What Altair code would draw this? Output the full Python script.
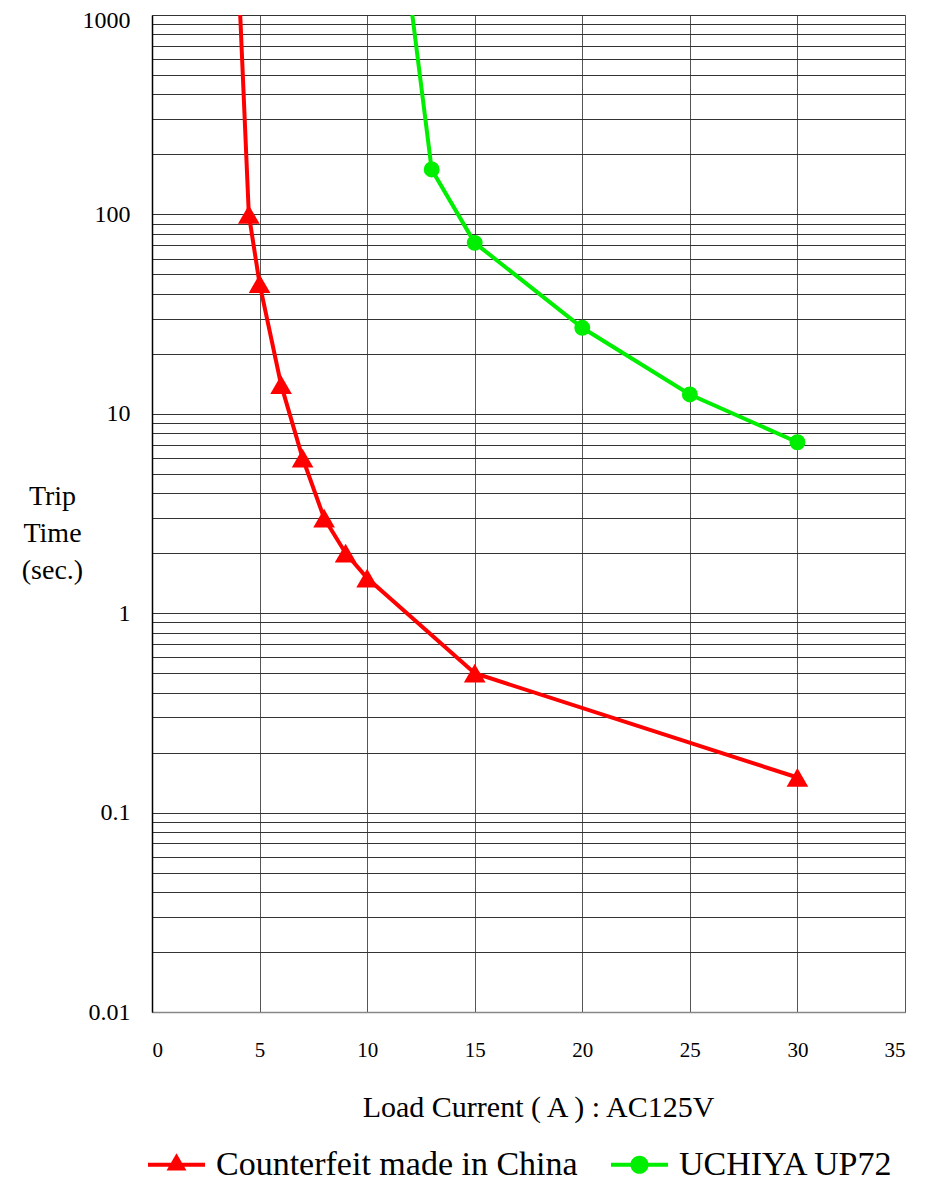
import altair as alt
import pandas as pd

series_names = ["Counterfeit made in China", "UCHIYA UP72"]
series_colors = ["#ff0000", "#00ee00"]

# Counterfeit: the first point is where the curve leaves the top of the chart (no marker)
red_current = [4.1, 4.5, 5, 6, 7, 8, 9, 10, 15, 30]
red_time = [1000, 100, 45, 14, 6, 3, 2, 1.5, 0.5, 0.15]
red_marker = [False, True, True, True, True, True, True, True, True, True]

green_current = [12.1, 13, 15, 20, 25, 30]
green_time = [1000, 168, 72, 27, 12.5, 7.2]
green_marker = [False, True, True, True, True, True]

y_label_values = [0.01, 0.1, 1, 10, 100, 1000]
y_grid_values = [m * d for d in [0.01, 0.1, 1, 10, 100] for m in range(1, 10)] + [1000]
x_tick_values = [0, 5, 10, 15, 20, 25, 30, 35]

legend_paths = [
    "M-1,-0.07H1V0.07H-1Z M0,-0.4L0.35,0.2L-0.35,0.2Z",
    "M-1,-0.07H1V0.07H-1Z M0.32,0A0.32,0.32,0,1,1,-0.32,0A0.32,0.32,0,1,1,0.32,0Z",
]

red_df = pd.DataFrame({"current": red_current, "time": red_time,
                       "marker": red_marker, "series": series_names[0]})
green_df = pd.DataFrame({"current": green_current, "time": green_time,
                         "marker": green_marker, "series": series_names[1]})
all_df = pd.concat([red_df, green_df], ignore_index=True)

FONT = "Liberation Serif"

x_enc = alt.X(
    "current:Q",
    scale=alt.Scale(domain=[0, 35], nice=False, zero=False),
    axis=alt.Axis(
        values=x_tick_values,
        title="Load Current ( A ) : AC125V",
        titleFont=FONT, titleFontSize=30, titleFontWeight="normal", titleColor="#000",
        titleBaseline="alphabetic", titleAnchor="start", titleAlign="center",
        titleX=386, titleY=104,
        labelFont=FONT, labelFontSize=21, labelColor="#000", labelPadding=27,
        ticks=False, grid=True, gridColor="#555", gridWidth=1,
        domainColor="#888", domainWidth=1.5,
    ),
)

y_enc = alt.Y(
    "time:Q",
    scale=alt.Scale(type="log", domain=[0.01, 1000], nice=False),
    axis=alt.Axis(
        values=y_grid_values,
        format="~g",
        labelExpr="indexof(" + str(y_label_values) + ", datum.value) >= 0 ? datum.label : ''",
        labelOverlap=False,
        labelFont=FONT, labelFontSize=24, labelColor="#000", labelPadding=22,
        labelBaseline="middle",
        labelOffset={"condition": {"test": "datum.value >= 1000", "value": 5}, "value": 0},
        title=["Trip", "Time", "(sec.)"],
        titleFont=FONT, titleFontSize=28, titleFontWeight="normal", titleColor="#000",
        titleAngle=0, titleAlign="center", titleBaseline="alphabetic",
        titleX=-100, titleY=489, titleLineHeight=37,
        ticks=False, grid=True, gridColor="#333", gridWidth=1.2,
        domainColor="#000", domainWidth=1.5,
    ),
)

red_line = alt.Chart(red_df).mark_line(color=series_colors[0], strokeWidth=4, clip=True).encode(
    x=x_enc, y=y_enc)
red_pts = alt.Chart(red_df).transform_filter("datum.marker").mark_point(
    shape="triangle-up", filled=True, size=470, opacity=1, color=series_colors[0]
).encode(x=x_enc, y=y_enc)

green_line = alt.Chart(green_df).mark_line(color=series_colors[1], strokeWidth=4, clip=True).encode(
    x=x_enc, y=y_enc)
green_pts = alt.Chart(green_df).transform_filter("datum.marker").mark_point(
    shape="circle", filled=True, size=254, opacity=1, color=series_colors[1]
).encode(x=x_enc, y=y_enc)

legend_props = dict(
    title=None, orient="none", direction="horizontal",
    legendX=-4, legendY=1121,
    symbolSize=3249, symbolStrokeWidth=0, symbolOpacity=1,
    labelFont=FONT, labelFontSize=34, labelColor="#000", labelOffset=11,
    labelLimit=1000, columnPadding=33, padding=0,
)

legend_layer = alt.Chart(all_df).transform_filter("datum.current < 0").mark_point(
    filled=True, opacity=1
).encode(
    x=x_enc, y=y_enc,
    color=alt.Color("series:N", scale=alt.Scale(domain=series_names, range=series_colors),
                    legend=alt.Legend(**legend_props)),
    shape=alt.Shape("series:N", scale=alt.Scale(domain=series_names, range=legend_paths),
                    legend=alt.Legend(**legend_props)),
)

chart = alt.layer(red_line, green_line, red_pts, green_pts, legend_layer).properties(
    width=753, height=997,
    autosize=alt.AutoSizeParams(type="none"),
    padding={"left": 144, "top": 7, "right": 20, "bottom": 180},
).configure_view(
    stroke="#888", strokeWidth=1.5
).configure(font=FONT)

chart.save("out.html", embed_options={"renderer": "svg", "actions": False})
